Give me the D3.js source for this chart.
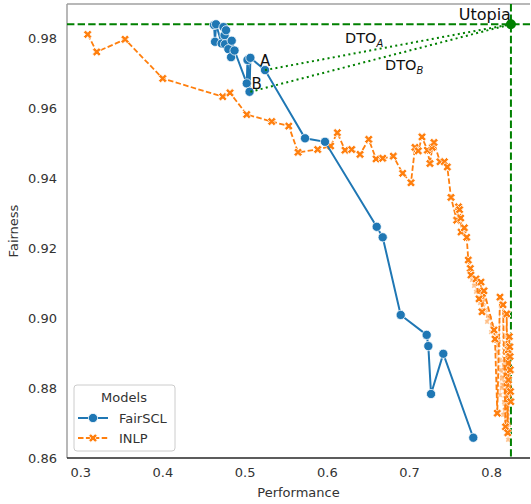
<!DOCTYPE html>
<html>
<head>
<meta charset="utf-8">
<script src="https://cdn.jsdelivr.net/npm/d3@7"></script>
<style>
  body { margin: 0; background: #fff; }
  text { font-family: "DejaVu Sans", sans-serif; }
</style>
</head>
<body>
<div id="chart"></div>
<script>
// FairSCL points (performance, fairness)
const fairsclX = [0.4628, 0.4640, 0.4652, 0.4721, 0.4743, 0.4756, 0.4762, 0.4774, 0.4802, 0.4835, 0.4843, 0.4877,
  0.5026, 0.5035, 0.5060, 0.5070, 0.5248, 0.5735, 0.5978, 0.6607, 0.6680, 0.6899, 0.7215, 0.7235, 0.7268, 0.7417, 0.7782];
const fairsclY = [0.9839, 0.9791, 0.9841, 0.9786, 0.9833, 0.9810, 0.9784, 0.9824, 0.9770, 0.9747, 0.9794, 0.9766,
  0.9672, 0.9739, 0.9648, 0.9745, 0.9710, 0.9515, 0.9505, 0.9262, 0.9232, 0.9010, 0.8953, 0.8921, 0.8784, 0.8899, 0.8659];

// INLP points
const inlpX = [0.3091, 0.3201, 0.3545, 0.4004, 0.4734, 0.4822, 0.5026, 0.5330, 0.5537, 0.5650, 0.5889, 0.6047,
  0.6128, 0.6221, 0.6303, 0.6404, 0.6510, 0.6599, 0.6680, 0.6809, 0.6923, 0.7024, 0.7073, 0.7113, 0.7158, 0.7223,
  0.7255, 0.7283, 0.7304, 0.7377, 0.7430, 0.7466, 0.7511, 0.7580, 0.7602, 0.7615, 0.7629, 0.7633, 0.7673, 0.7702,
  0.7721, 0.7746, 0.7754, 0.7815, 0.7852, 0.7876, 0.7888, 0.7912, 0.8034, 0.8046, 0.8074, 0.8107, 0.8144, 0.8174,
  0.8189, 0.8201, 0.8208, 0.8210, 0.8220, 0.8226, 0.8229, 0.8232, 0.8235, 0.8238];
const inlpY = [0.9812, 0.9762, 0.9798, 0.9686, 0.9634, 0.9645, 0.9583, 0.9563, 0.9550, 0.9475, 0.9483, 0.9493,
  0.9531, 0.9481, 0.9483, 0.9469, 0.9512, 0.9456, 0.9458, 0.9464, 0.9415, 0.9388, 0.9489, 0.9479, 0.9519, 0.9481,
  0.9443, 0.9489, 0.9503, 0.9448, 0.9448, 0.9433, 0.9346, 0.9281, 0.9319, 0.9311, 0.9287, 0.9247, 0.9259, 0.9232,
  0.9167, 0.9143, 0.9124, 0.9113, 0.9056, 0.9104, 0.9019, 0.9079, 0.8967, 0.8941, 0.8729, 0.9061, 0.9039, 0.8690,
  0.9013, 0.8673, 0.8910, 0.8824, 0.8948, 0.8919, 0.8891, 0.8853, 0.8791, 0.8762];

// crowded INLP runs near the right edge
const inlpDenseX = [0.7767, 0.7791, 0.7815, 0.7840, 0.7864, 0.7900, 0.7925, 0.7937, 0.7961, 0.7949, 0.7986, 0.8010,
  0.7998, 0.8034, 0.8059, 0.8083, 0.8071, 0.8095, 0.8107, 0.8120, 0.8132, 0.8144, 0.8107, 0.8132, 0.8156, 0.8168,
  0.8144, 0.8181, 0.8193, 0.8156, 0.8181, 0.8205, 0.8193, 0.8217, 0.8205, 0.8181];
const inlpDenseY = [0.9110, 0.9093, 0.9076, 0.9081, 0.9044, 0.9039, 0.9053, 0.9024, 0.9007, 0.8990, 0.9001, 0.8981,
  0.8961, 0.8973, 0.8950, 0.8924, 0.8904, 0.8933, 0.8881, 0.8853, 0.8830, 0.8810, 0.8781, 0.8801, 0.8761, 0.8739,
  0.8724, 0.8710, 0.8896, 0.8867, 0.8847, 0.8807, 0.8753, 0.8696, 0.8653, 0.8780];

const utopia = [0.824, 0.9841];
const pointA = [0.5248, 0.9710];
const pointB = [0.5070, 0.9648];

const xTicks = [0.3, 0.4, 0.5, 0.6, 0.7, 0.8];
const yTicks = [0.86, 0.88, 0.90, 0.92, 0.94, 0.96, 0.98];

const width = 531, height = 504;
const margin = { top: 4, right: 1, bottom: 46, left: 67 };
const blue = "#1f77b4", orange = "#ff7f0e", green = "#008000";

const svg = d3.select("#chart").append("svg")
  .attr("width", width).attr("height", height);

const x = d3.scaleLinear().domain([0.2839, 0.8472]).range([margin.left, width - margin.right]);
const y = d3.scaleLinear().domain([0.8601, 0.9899]).range([height - margin.bottom, margin.top]);

// axes (no tick marks, seaborn white style)
const xAxis = svg.append("g")
  .attr("transform", `translate(0,${height - margin.bottom})`)
  .call(d3.axisBottom(x).tickValues(xTicks).tickSize(0).tickPadding(10).tickFormat(d3.format(".1f")));
xAxis.select(".domain").remove();
xAxis.selectAll("text").attr("font-size", 13).attr("fill", "#333");

const yAxis = svg.append("g")
  .attr("transform", `translate(${margin.left},0)`)
  .call(d3.axisLeft(y).tickValues(yTicks).tickSize(0).tickPadding(10).tickFormat(d3.format(".2f")));
yAxis.select(".domain").remove();
yAxis.selectAll("text").attr("font-size", 13).attr("fill", "#333");

// frame
const x0 = margin.left, x1 = width - margin.right, y0 = margin.top, y1 = height - margin.bottom;
svg.append("line").attr("x1", x0).attr("x2", x0).attr("y1", y0).attr("y2", y1).attr("stroke", "#a0a0a0").attr("stroke-width", 1.5);
svg.append("line").attr("x1", x0).attr("x2", x1).attr("y1", y0).attr("y2", y0).attr("stroke", "#a0a0a0").attr("stroke-width", 1.5);
svg.append("line").attr("x1", x0).attr("x2", x1).attr("y1", y1).attr("y2", y1).attr("stroke", "#262626").attr("stroke-width", 1.5);

svg.append("text").attr("x", (x0 + x1) / 2).attr("y", 497).attr("text-anchor", "middle")
  .attr("font-size", 13).attr("fill", "#333").text("Performance");
svg.append("text").attr("transform", `translate(18,${(y0 + y1) / 2}) rotate(-90)`).attr("text-anchor", "middle")
  .attr("font-size", 13).attr("fill", "#333").text("Fairness");

const plot = svg.append("g");

// utopia reference lines
plot.append("line").attr("x1", x0).attr("x2", x1).attr("y1", y(utopia[1])).attr("y2", y(utopia[1]))
  .attr("stroke", green).attr("stroke-width", 2).attr("stroke-dasharray", "7.4,3.2");
plot.append("line").attr("x1", x(utopia[0])).attr("x2", x(utopia[0])).attr("y1", y0).attr("y2", y1)
  .attr("stroke", green).attr("stroke-width", 2).attr("stroke-dasharray", "7.4,3.2");

// INLP
const inlp = inlpX.map((v, i) => ({ x: v, y: inlpY[i] }));
const inlpDense = inlpDenseX.map((v, i) => ({ x: v, y: inlpDenseY[i] }));
const line = d3.line().x(d => x(d.x)).y(d => y(d.y));

const denseRun = inlp.filter(d => d.x > 0.775).concat(inlpDense).sort((a, b) => a.x - b.x);
plot.append("path").datum(denseRun).attr("d", line).attr("fill", "none")
  .attr("stroke", orange).attr("stroke-opacity", 0.35).attr("stroke-width", 1).attr("stroke-dasharray", "2,2");

plot.append("path").datum(inlp).attr("d", line).attr("fill", "none")
  .attr("stroke", orange).attr("stroke-width", 1.8).attr("stroke-dasharray", "5.5,2.4");

const xSym = d3.symbol().type(d3.symbolCross).size(46);
plot.selectAll(".dense").data(inlpDense).join("path").attr("class", "dense")
  .attr("d", d3.symbol().type(d3.symbolCross).size(14))
  .attr("transform", d => `translate(${x(d.x)},${y(d.y)}) rotate(45)`)
  .attr("fill", orange).attr("fill-opacity", 0.45);
plot.selectAll(".inlp").data(inlp).join("path").attr("class", "inlp")
  .attr("d", xSym)
  .attr("transform", d => `translate(${x(d.x)},${y(d.y)}) rotate(45)`)
  .attr("fill", orange).attr("stroke", "#fff").attr("stroke-width", 0.75);

// FairSCL
const fair = fairsclX.map((v, i) => ({ x: v, y: fairsclY[i] }));
plot.append("path").datum(fair).attr("d", line).attr("fill", "none")
  .attr("stroke", blue).attr("stroke-width", 2);
plot.selectAll(".fair").data(fair).join("circle").attr("class", "fair")
  .attr("cx", d => x(d.x)).attr("cy", d => y(d.y)).attr("r", 4.6)
  .attr("fill", blue).attr("stroke", "#fff").attr("stroke-width", 0.75);

// DTO lines
[pointA, pointB].forEach(p => {
  plot.append("line").attr("x1", x(p[0])).attr("y1", y(p[1])).attr("x2", x(utopia[0])).attr("y2", y(utopia[1]))
    .attr("stroke", green).attr("stroke-width", 2).attr("stroke-dasharray", "2,3.3");
});
plot.append("circle").attr("cx", x(utopia[0])).attr("cy", y(utopia[1])).attr("r", 5).attr("fill", green);

// annotations
plot.append("text").attr("x", x(utopia[0])).attr("y", 20).attr("text-anchor", "end")
  .attr("font-size", 16).attr("fill", "#111").text("Utopia");
plot.append("text").attr("x", x(pointA[0]) - 5).attr("y", y(pointA[1]) - 4)
  .attr("font-size", 15).attr("fill", "#111").text("A");
plot.append("text").attr("x", x(pointB[0]) + 1).attr("y", y(pointB[1]) - 3)
  .attr("font-size", 15).attr("fill", "#111").text("B");
const dtoA = plot.append("text").attr("x", 345).attr("y", 43).attr("font-size", 14.5).attr("fill", "#111");
dtoA.append("tspan").text("DTO");
dtoA.append("tspan").attr("dy", 4).attr("font-size", 10).attr("font-style", "italic").text("A");
const dtoB = plot.append("text").attr("x", 385).attr("y", 70).attr("font-size", 14.5).attr("fill", "#111");
dtoB.append("tspan").text("DTO");
dtoB.append("tspan").attr("dy", 4).attr("font-size", 10).attr("font-style", "italic").text("B");

// legend
const lg = svg.append("g").attr("transform", "translate(74,385)");
lg.append("rect").attr("width", 101).attr("height", 66).attr("rx", 3)
  .attr("fill", "#fff").attr("fill-opacity", 0.8).attr("stroke", "#ccc");
lg.append("text").attr("x", 50).attr("y", 17).attr("text-anchor", "middle")
  .attr("font-size", 13).attr("fill", "#333").text("Models");
lg.append("line").attr("x1", 4).attr("x2", 34).attr("y1", 33).attr("y2", 33).attr("stroke", blue).attr("stroke-width", 2);
lg.append("circle").attr("cx", 19).attr("cy", 33).attr("r", 4.6).attr("fill", blue).attr("stroke", "#fff").attr("stroke-width", 0.75);
lg.append("text").attr("x", 45).attr("y", 38).attr("font-size", 13).attr("fill", "#333").text("FairSCL");
lg.append("line").attr("x1", 4).attr("x2", 34).attr("y1", 53).attr("y2", 53).attr("stroke", orange).attr("stroke-width", 1.8).attr("stroke-dasharray", "5.5,2.4");
lg.append("path").attr("d", xSym).attr("transform", "translate(19,53) rotate(45)")
  .attr("fill", orange).attr("stroke", "#fff").attr("stroke-width", 0.75);
lg.append("text").attr("x", 45).attr("y", 58).attr("font-size", 13).attr("fill", "#333").text("INLP");
</script>
</body>
</html>
